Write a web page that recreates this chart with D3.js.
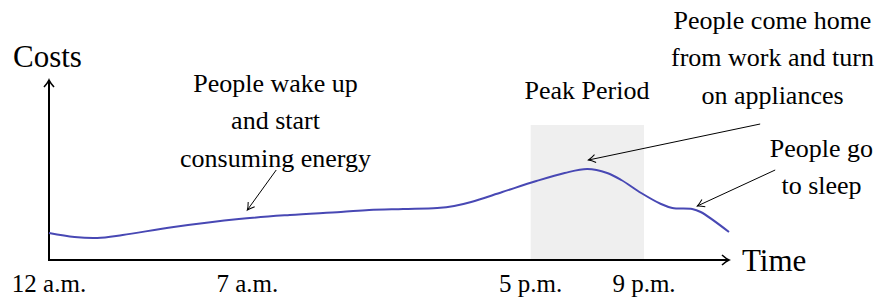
<!DOCTYPE html>
<html lang="en">
<head>
<meta charset="UTF-8">
<title>Energy costs over the day</title>
<script src="https://d3js.org/d3.v7.min.js"></script>
<style>
  body { margin: 0; background: #fff; }
</style>
</head>
<body>
<script>
  // hour of day (0 = midnight) and relative cost
  const hours = [0, 0.9, 1.7, 2.6, 4.4, 6.7, 8.5, 10.3, 11.3, 12.5, 13.7, 14.3, 14.9, 16, 17.2, 18.2, 19, 19.7, 20.2, 20.9, 21.6, 22, 22.7, 23, 24]
  const costs = [27, 23, 22, 25, 33, 41, 45, 48, 50, 51, 52, 54, 58, 68, 79, 87, 91, 87, 80, 67, 56, 52, 51, 48, 28]

  const tickHours = [0, 7, 17, 21]
  const tickLabels = ['12 a.m.', '7 a.m.', '5 p.m.', '9 p.m.']

  const peakHours = [17, 21]
  const peakTop = 135

  const width = 881
  const height = 301
  const serif = "'Liberation Serif', 'Times New Roman', Times, 'DejaVu Serif', serif"

  const x = d3.scaleLinear().domain([0, 24]).range([49, 729])
  const y = d3.scaleLinear().domain([0, 180]).range([260, 80])

  const svg = d3.select('body')
    .append('svg')
    .attr('width', width)
    .attr('height', height)

  const defs = svg.append('defs')
  function arrowMarker(id, len, spread, sw) {
    defs.append('marker')
      .attr('id', id)
      .attr('markerUnits', 'userSpaceOnUse')
      .attr('viewBox', `${-len - 2} ${-spread - 2} ${len + 4} ${2 * spread + 4}`)
      .attr('refX', 0)
      .attr('refY', 0)
      .attr('markerWidth', len + 4)
      .attr('markerHeight', 2 * spread + 4)
      .attr('orient', 'auto')
      .append('path')
      .attr('d', `M${-len},${-spread} Q${-len * 0.4},${-spread * 0.25} 0,0 Q${-len * 0.4},${spread * 0.25} ${-len},${spread}`)
      .attr('fill', 'none')
      .attr('stroke', '#000')
      .attr('stroke-width', sw)
  }
  arrowMarker('axisArrow', 7, 5, 1.6)
  arrowMarker('thinArrow', 7, 4, 1)

  // peak period shading
  svg.append('rect')
    .attr('x', x(peakHours[0]))
    .attr('y', y(peakTop))
    .attr('width', x(peakHours[1]) - x(peakHours[0]))
    .attr('height', y(0) - y(peakTop))
    .attr('fill', '#efefef')

  // axes
  svg.append('line')
    .attr('x1', x(0)).attr('y1', y(0))
    .attr('x2', x(0)).attr('y2', y(180))
    .attr('stroke', '#000')
    .attr('stroke-width', 2)
    .attr('marker-end', 'url(#axisArrow)')

  svg.append('line')
    .attr('x1', x(0) - 1).attr('y1', y(0))
    .attr('x2', x(24)).attr('y2', y(0))
    .attr('stroke', '#000')
    .attr('stroke-width', 2)
    .attr('marker-end', 'url(#axisArrow)')

  svg.selectAll('.tick')
    .data(tickHours)
    .enter()
    .append('text')
    .attr('class', 'tick')
    .attr('x', d => x(d))
    .attr('y', 292)
    .attr('text-anchor', 'middle')
    .attr('font-family', serif)
    .attr('font-size', 25)
    .text((d, i) => tickLabels[i])

  svg.append('text')
    .attr('x', 13).attr('y', 67)
    .attr('font-family', serif)
    .attr('font-size', 31)
    .text('Costs')

  svg.append('text')
    .attr('x', 742).attr('y', 271)
    .attr('font-family', serif)
    .attr('font-size', 31)
    .text('Time')

  // cost curve
  const line = d3.line()
    .x((d, i) => x(hours[i]))
    .y(d => y(d))
    .curve(d3.curveCatmullRom.alpha(0.5))

  svg.append('path')
    .datum(costs)
    .attr('d', line)
    .attr('fill', 'none')
    .attr('stroke', '#4848b4')
    .attr('stroke-width', 2)

  // annotations
  function note(lines, cx, firstBaseline) {
    svg.append('g').selectAll('text')
      .data(lines)
      .enter()
      .append('text')
      .attr('x', cx)
      .attr('y', (d, i) => firstBaseline + i * 37.3)
      .attr('text-anchor', 'middle')
      .attr('font-family', serif)
      .attr('font-size', 26)
      .text(d => d)
  }
  note(['People wake up', 'and start', 'consuming energy'], 275.5, 92)
  note(['Peak Period'], 587, 99)
  note(['People come home', 'from work and turn', 'on appliances'], 772.5, 29)
  note(['People go', 'to sleep'], 821.5, 157)

  function pointer(from, to) {
    svg.append('line')
      .attr('x1', x(from[0])).attr('y1', y(from[1]))
      .attr('x2', x(to[0])).attr('y2', y(to[1]))
      .attr('stroke', '#000')
      .attr('stroke-width', 1)
      .attr('marker-end', 'url(#thinArrow)')
  }
  pointer([8.02, 90], [7, 50])
  pointer([25.1, 136], [19.04, 100])
  pointer([25.63, 90], [22.88, 54])
</script>
</body>
</html>
